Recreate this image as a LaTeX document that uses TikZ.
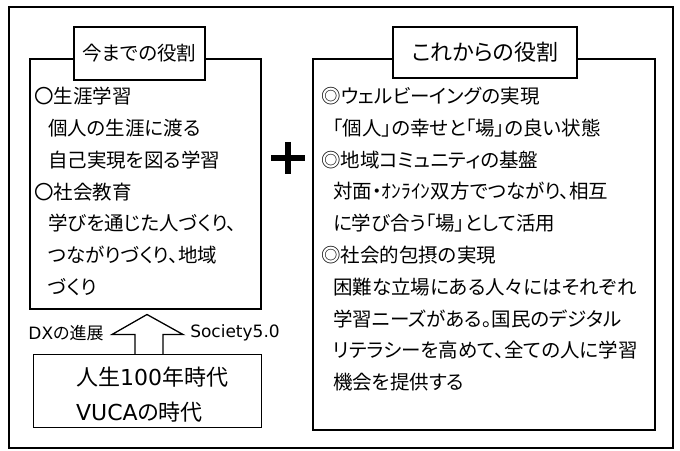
\documentclass[tikz,border=0pt]{standalone}
\usepackage{fontspec}
\setmainfont{Noto Sans CJK JP}[RawFeature=+palt]
\newfontfamily\lat{DejaVu Sans}
\usetikzlibrary{positioning,calc}
\tikzset{
    %Define style for the role boxes
    rolebox/.style={
           rectangle,
           draw=black, line width=1.5pt,
           inner sep=0pt},
    %Define style for the title boxes
    titlebox/.style={
           rectangle,
           draw=black, line width=2pt,
           fill=white,
           inner sep=0pt},
    %Define style for the text in the boxes
    body/.style={
           anchor=north west,
           align=left,
           inner sep=0pt,
           font=\fontsize{19.5}{31.8}\selectfont},
    % Define style for the fat arrow
    fat/.style={
           draw=black,
           line width=1.3pt,
           line join=miter},
    plusbar/.style={
           line width=6pt}
}
\begin{document}
\begin{tikzpicture}[x=1pt, y=1pt]
    \useasboundingbox (0,0) rectangle (680,450);
    \draw[line width=1.5pt] (9,443) rectangle (673,2);
 %nodes
    \node[rolebox, minimum width=231, minimum height=250] (past) at (145.5,266) {};
    \node[titlebox, minimum width=131, minimum height=53, font=\fontsize{19.5}{24}\selectfont] (pasttitle) at (139.5,396.5) {今までの役割};
    \node[body] (pasttext) at (34,363) {〇生涯学習\\
        \hspace*{14pt}個人の生涯に渡る\\
        \hspace*{14pt}自己実現を図る学習\\
        〇社会教育\\
        \hspace*{14pt}学びを通じた人づくり、\\
        \hspace*{14pt}つながりづくり、地域\\
        \hspace*{14pt}づくり};
    \node[rolebox, minimum width=342, minimum height=371] (future) at (484,205.5) {};
    \node[titlebox, minimum width=184, minimum height=51, font=\fontsize{22}{26}\selectfont] (futuretitle) at (485,397.5) {これからの役割};
    \node[body] (futuretext) at (321,363) {◎ウェルビーイングの実現\\
        \hspace*{12pt}「個人」の幸せと「場」の良い状態\\
        ◎地域コミュニティの基盤\\
        \hspace*{12pt}対面・ｵﾝﾗｲﾝ双方でつながり、相互\\
        \hspace*{12pt}に学び合う「場」として活用\\
        ◎社会的包摂の実現\\
        \hspace*{12pt}困難な立場にある人々にはそれぞれ\\
        \hspace*{12pt}学習ニーズがある。国民のデジタル\\
        \hspace*{12pt}リテラシーを高めて、全ての人に学習\\
        \hspace*{12pt}機会を提供する};
    \node[minimum width=33, minimum height=32, inner sep=0pt] (plus) at (288,292) {};
    \node[draw=black, line width=1pt, minimum width=228, minimum height=72, inner sep=0pt] (era) at (147,59) {};
    \node[anchor=west, align=left, inner sep=0pt, font=\fontsize{22}{35}\selectfont] (eratext) at (76,55.5) {人生{\lat 100}年時代\\{\lat VUCA}の時代};
    \node[font=\fontsize{17}{20}\selectfont, inner sep=0pt] (dx) at (66,117) {{\lat DX}の進展};
    \node[font=\lat\fontsize{17}{20}\selectfont, inner sep=0pt] (soc) at (235,117) {Society5.0};
 %edges
    \draw[plusbar] (plus.west) -- (plus.east);
    \draw[plusbar] (plus.north) -- (plus.south);
    \coordinate (tip) at ($(era.north)+(0,40)$);
    \draw[fat] ($(era.north)+(-12,0)$) -- ++(0,20) -- ++(-23,0) -- (tip)
        -- ++(36,-20) -- ++(-20,0) -- ++(0,-20);
\end{tikzpicture}
\end{document}
